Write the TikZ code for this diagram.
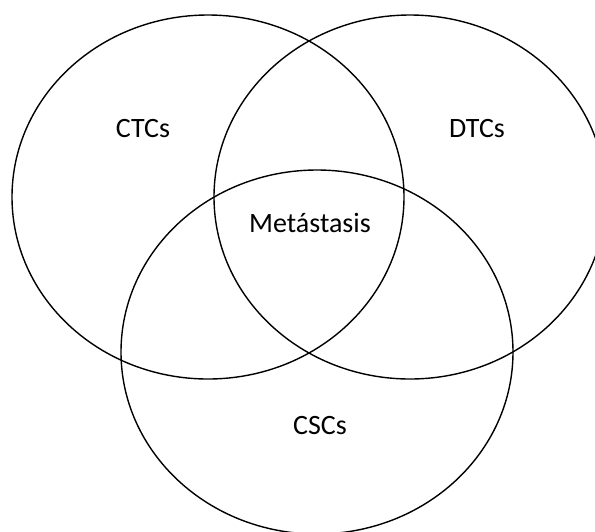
\documentclass[tikz,border=0pt]{standalone}
\usepackage{fontspec}
\setmainfont{Carlito}
\usetikzlibrary{shapes.geometric}
\begin{document}
\begin{tikzpicture}[x=1pt,y=-1pt,
  set/.style={draw=black,line width=1.4pt,ellipse,minimum width=392pt,minimum height=364pt,inner sep=0pt},
  lbl/.style={font=\fontsize{28}{31}\selectfont,anchor=base,inner sep=0pt}]
\useasboundingbox (0,0) rectangle (595,531);
\clip (0,0) rectangle (595,531);
\fill[white] (0,0) rectangle (595,531);
\node[set] (ctc) at (208,197) {};
\node[set] (dtc) at (410,197) {};
\node[set] (csc) at (317,352) {};
\node[lbl] (tctc) at (143,137) {CTCs};
\node[lbl] (tdtc) at (477,137) {DTCs};
\node[lbl] (tmet) at (310,232) {Metástasis};
\node[lbl] (tcsc) at (320,434) {CSCs};
\end{tikzpicture}
\end{document}
